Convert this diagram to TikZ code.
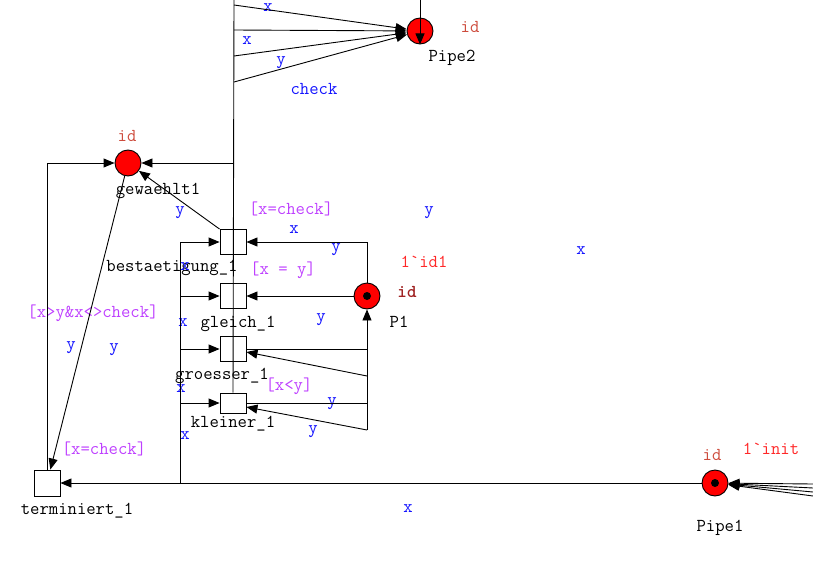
\documentclass[tikz,border=0pt]{standalone}
\usepackage{fontspec}
\usetikzlibrary{arrows.meta}

\definecolor{inscblue}{RGB}{20,20,255}
\definecolor{guardpink}{RGB}{190,64,255}
\definecolor{typered}{RGB}{205,75,60}
\definecolor{initred}{RGB}{255,40,40}
\definecolor{currred}{RGB}{160,35,35}

\tikzset{
	place/.style={circle, draw, fill=red, minimum size=26pt, inner sep=0pt},
	trans/.style={rectangle, draw, minimum width=26pt, minimum height=25pt, inner sep=0pt},
	token/.style={circle, fill=black, minimum size=8pt, inner sep=0pt},
	arc/.style={-{Triangle[length=11pt,width=9pt]}},
	netname/.style={anchor=base, inner sep=0pt},
	insc/.style={text=inscblue, inner sep=0pt},
	guard/.style={text=guardpink, inner sep=0pt},
	ptype/.style={text=typered, inner sep=0pt},
	initmark/.style={text=initred, inner sep=0pt},
}

\begin{document}
\begin{tikzpicture}[x=1pt, y=-1pt, line width=0.9pt, font=\ttfamily\fontsize{18.2}{20}\selectfont]
		\useasboundingbox (0,0) rectangle (813,578);

		% places
		\node[place] (Pipe2) at (420,31) {};
		\node[place] (gewaehlt1) at (128,163) {};
		\node[place] (P1) at (367,296) {};
		\node[place] (Pipe1) at (715,483) {};
		\node[token] (tokP1) at (P1) {};
		\node[token] (tokPipe1) at (Pipe1) {};

		% transitions
		\node[trans] (bestaetigung) at (233,242) {};
		\node[trans] (gleich) at (233,296) {};
		\node[trans] (groesser) at (233,349) {};
		\node[trans, minimum height=20pt] (kleiner) at (233,403) {};
		\node[trans, minimum height=26pt] (terminiert) at (47,483) {};

		% names
		\node[netname] (nPipe2) at (452,61) {Pipe2};
		\node[netname] (ngewaehlt1) at (158,194) {gewaehlt1};
		\node[netname] (nbestaetigung) at (172,271) {bestaetigung\_1};
		\node[netname] (ngleich) at (238,327) {gleich\_1};
		\node[netname] (ngroesser) at (222,379) {groesser\_1};
		\node[netname] (nkleiner) at (233,427) {kleiner\_1};
		\node[netname] (nterminiert) at (77,514) {terminiert\_1};
		\node[netname] (nP1) at (399,327) {P1};
		\node[netname] (nPipe1) at (720,531) {Pipe1};

		% colour sets and markings
		\node[ptype] (tPipe2) at (470,27) {id};
		\node[ptype] (tgewaehlt1) at (127,136) {id};
		\node[ptype] (tPipe1) at (712,455) {id};
		\node[text=currred, inner sep=0pt] (tP1) at (407,292) {\bfseries id};
		\node[initmark] (mP1) at (424,262) {1\textasciigrave id1};
		\node[initmark] (mPipe1) at (771,449) {1\textasciigrave init};

		% guards
		\node[guard] (gbest) at (291,209) {[x=check]};
		\node[guard] (ggleich) at (283,270) {[x = y]};
		\node[guard] (gkleiner) at (289,386) {[x<y]};
		\node[guard] (ggroesser) at (93,313) {[x>y\&x<>check]};
		\node[guard] (gterm) at (104,449) {[x=check]};

		% arc inscriptions
		\foreach \t/\px/\py [count=\i] in {x/268/8, x/247/40.5, y/281/63, check/314/89,
				y/180/213, x/294/229.5, y/336/250, y/429/213, x/581/251, y/321/320,
				x/185/267, x/183/323, x/181/389, x/185/436, y/332/404, y/313/432,
				y/71/348, y/114/350, x/408/509}
			\node[insc] (insc\i) at (\px,\py) {\t};

		% arcs into Pipe2
		\coordinate (top) at (234,0);
		\draw (top) -- (kleiner.north);
		\foreach \ay [count=\i] in {5,30,56,82} {
			\coordinate (a\i) at (234,\ay);
			\draw[arc] (a\i) -- (Pipe2);
		}
		\coordinate (p2in) at (420,0);
		\draw[arc] (p2in) -- (Pipe2.south);

		% gewaehlt1 and terminiert_1
		\coordinate (g1) at (234,163);
		\draw[arc] (g1) -- (gewaehlt1);
		\draw[arc] (terminiert.north) |- (gewaehlt1.west);
		\draw[arc] (gewaehlt1) -- (terminiert);
		\draw[arc] (bestaetigung.north west) -- (gewaehlt1);

		% left bus from Pipe1
		\coordinate (bus) at (180,483);
		\draw (bestaetigung.west -| bus) -- (bus);
		\foreach \t in {bestaetigung,gleich,groesser,kleiner}
			\draw[arc] (\t.west -| bus) -- (\t.west);
		\draw[arc] (Pipe1) -- (terminiert);

		% P1 side
		\draw[arc] (P1.north) |- (bestaetigung.east);
		\draw[arc] (P1) -- (gleich);
		\coordinate (rbus) at (367,430);
		\coordinate (r1) at (367,376);
		\draw[arc] (rbus) -- (P1.south);
		\draw (groesser.east -| rbus) -- (groesser.east);
		\draw (kleiner.east -| rbus) -- (kleiner.east);
		\draw[arc] (r1) -- ([yshift=-3pt]groesser.east);
		\draw[arc] (rbus) -- ([yshift=-4pt]kleiner.east);

		% arcs into Pipe1
		\foreach \ry [count=\i] in {484,488,492,496} {
			\coordinate (in\i) at (813,\ry);
			\draw[arc] (in\i) -- (Pipe1);
		}
	\end{tikzpicture}
\end{document}
